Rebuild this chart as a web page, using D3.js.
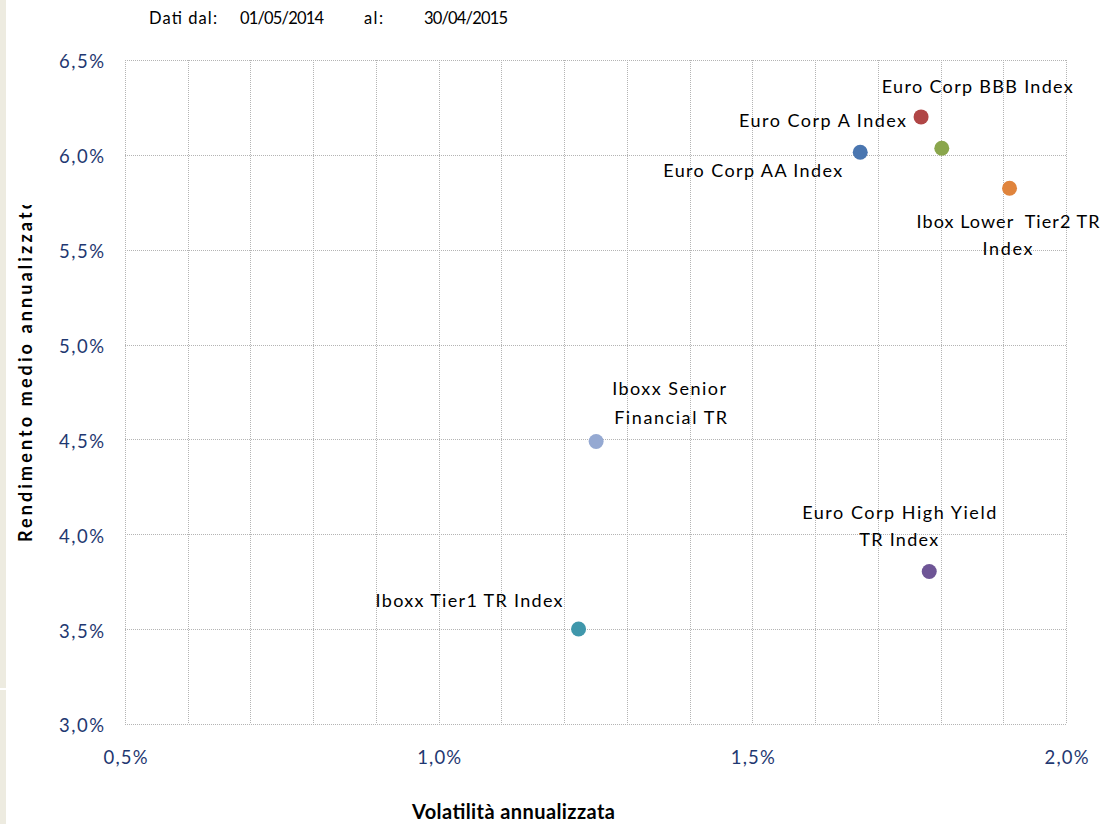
<!DOCTYPE html>
<html><head><meta charset="utf-8">
<script src="https://cdn.jsdelivr.net/npm/d3@7"></script>
<style>
html,body{margin:0;padding:0;background:#fff;}
text{font-family:Lato,"Open Sans",sans-serif;}
</style></head>
<body>
<svg id="chart" width="1116" height="824"></svg>
<script>
// ---- data ----
const names = ["Euro Corp AA Index","Euro Corp A Index","Euro Corp BBB Index","Ibox Lower  Tier2 TR Index","Iboxx Senior Financial TR","Iboxx Tier1 TR Index","Euro Corp High Yield TR Index"];
const volatility = [1.672, 1.769, 1.802, 1.910, 1.251, 1.223, 1.782];
const returns    = [6.014, 6.200, 6.035, 5.824, 4.489, 3.501, 3.804];
const colors     = ["#4a76b0","#b04646","#8aa64c","#e0843c","#95a9d2","#3f97ab","#6e5596"];
const xTicks = [0.5, 1.0, 1.5, 2.0];
const yTicks = [3.0, 3.5, 4.0, 4.5, 5.0, 5.5, 6.0, 6.5];
const xGrid = d3.range(0, 16).map(i => +(0.5 + i * 0.1).toFixed(1));
const labelLines = [["Euro Corp AA Index"],["Euro Corp A Index"],["Euro Corp BBB Index"],["Ibox Lower  Tier2 TR","Index"],["Iboxx Senior","Financial TR"],["Iboxx Tier1 TR Index"],["Euro Corp High Yield","TR Index"]];
const header = ["Dati dal:","01/05/2014","al:","30/04/2015"];
const xTitle = "Volatilità annualizzata";
const yTitle = "Rendimento medio annualizzato";

// ---- layout: header positions, label boxes relative to the point (left offset, width, centre offset) ----
const headerLayout = [[149,68],[240,84],[364,19],[424,84]];
const labelLayout = [
  [[-197,179,18]],
  [[-182,167,4]],
  [[-60,191,-62]],
  [[-93,183,33],[-27,50,60]],
  [[16,114,-53],[18,113,-24]],
  [[-203,187,-28]],
  [[-127,194,-59],[-70,79,-32]]
];

const svg = d3.select("#chart");
const L = 125, R = 1066, T = 60, B = 724;
const x = d3.scaleLinear().domain([0.5, 2.0]).range([L, R]);
const y = d3.scaleLinear().domain([3.0, 6.5]).range([B, T]);
const fmt = v => d3.format(".1f")(v).replace(".", ",") + "%";
const px = v => Math.round(v) + 0.5;

// left beige strip
svg.append("rect").attr("x",0).attr("y",0).attr("width",6).attr("height",824).attr("fill","#edebe0");
svg.append("rect").attr("x",0).attr("y",688).attr("width",6).attr("height",2).attr("fill","#fff");

// header
svg.selectAll("text.hdr").data(header).join("text").attr("class","hdr")
  .attr("x", (d,i) => headerLayout[i][0]).attr("y", 24).style("font-size", "16.5px").attr("fill","#000")
  .attr("textLength", (d,i) => headerLayout[i][1]).attr("lengthAdjust","spacing").text(d => d);

// grid
const grid = svg.append("g");
grid.selectAll("line.v").data(xGrid).join("line").attr("class","v")
  .attr("x1", d => px(x(d))).attr("x2", d => px(x(d))).attr("y1", T).attr("y2", B)
  .attr("stroke","#b4b4b4").attr("stroke-width",1).attr("stroke-dasharray","1,1");
grid.selectAll("line.h").data(yTicks).join("line").attr("class","h")
  .attr("y1", d => px(y(d))).attr("y2", d => px(y(d))).attr("x1", L).attr("x2", R + 1)
  .attr("stroke","#b4b4b4").attr("stroke-width",1).attr("stroke-dasharray","1,1");

// axes (labels only)
const xAxis = d3.axisBottom(x).tickValues(xTicks).tickFormat(fmt).tickSize(0).tickPadding(0);
const gx = svg.append("g").attr("transform", `translate(0,${B})`).call(xAxis);
gx.select(".domain").remove();
gx.selectAll("text").attr("dy", "0.35em").attr("y", 34).style("font-size", "18.5px").attr("fill", "#1f3871")
  .style("font-family","Lato,'Open Sans',sans-serif").attr("textLength", 44).attr("lengthAdjust","spacing");

const yAxis = d3.axisLeft(y).tickValues(yTicks).tickFormat(fmt).tickSize(0).tickPadding(0);
const gy = svg.append("g").attr("transform", `translate(104,0)`).call(yAxis);
gy.select(".domain").remove();
gy.selectAll("text").attr("x", 0).attr("dy","0.35em").style("font-size", "18.5px").attr("fill", "#1f3871")
  .style("font-family","Lato,'Open Sans',sans-serif").attr("textLength", 45).attr("lengthAdjust","spacing");
gy.selectAll(".tick").attr("transform", d => `translate(0,${y(d) + 2})`);

// axis titles
svg.append("text").attr("x", 412).attr("y", 819)
  .attr("font-size", 20).attr("font-weight","bold").attr("fill","#000")
  .attr("textLength", 203).attr("lengthAdjust","spacing").text(xTitle);
svg.append("clipPath").attr("id","yclip").append("rect").attr("x",0).attr("y",205).attr("width",45).attr("height",500);
svg.append("g").attr("clip-path","url(#yclip)").append("text")
  .attr("transform","translate(32,542) rotate(-90)").attr("text-anchor","start")
  .attr("font-size", 18).attr("font-weight","bold").attr("fill","#000")
  .attr("textLength", 343).attr("lengthAdjust","spacing").text(yTitle);

// points
const pts = names.map((n,i) => ({name:n, v:volatility[i], r:returns[i], c:colors[i], lines:labelLines[i], lay:labelLayout[i]}));
svg.append("g").selectAll("circle").data(pts).join("circle")
  .attr("cx", d => x(d.v)).attr("cy", d => y(d.r)).attr("r", 7.5).attr("fill", d => d.c);

// labels
const lg = svg.append("g");
pts.forEach(d => {
  d.lines.forEach((line, j) => {
    const [dx, w, dy] = d.lay[j];
    lg.append("text").attr("x", x(d.v) + dx).attr("y", y(d.r) + dy)
      .attr("dy","0.35em")
      .attr("font-size", 18).attr("fill","#000")
      .attr("textLength", w).attr("lengthAdjust","spacing")
      .attr("xml:space","preserve").style("white-space","pre").text(line);
  });
});
</script>
</body></html>
